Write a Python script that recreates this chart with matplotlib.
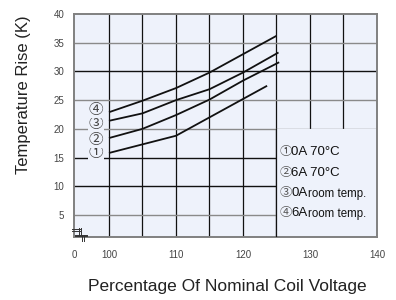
import matplotlib
matplotlib.use("Agg")
import matplotlib.pyplot as plt
from matplotlib.patches import Rectangle

plt.rcParams['font.family'] = ['Liberation Sans', 'Noto Sans CJK JP', 'DejaVu Sans']

# curves: (percent of nominal coil voltage, temperature rise K)
x_curve = [100, 105, 110, 115, 120, 125]
rise_6a_room = [22.9, 24.9, 27.1, 29.8, 33.0, 36.2]
x_0a_room = [100, 105, 110, 115, 120, 125.3]
rise_0a_room = [21.4, 22.7, 25.0, 26.9, 29.8, 33.3]
x_6a_70 = [100, 105, 110, 115, 120, 125.4]
rise_6a_70 = [18.4, 20.0, 22.4, 25.1, 28.4, 31.6]
x_0a_70 = [100, 105, 110, 115, 120, 123.6]
rise_0a_70 = [15.8, 17.3, 18.8, 22.0, 25.2, 27.5]

x_ticks = [100, 110, 120, 130, 140]
y_ticks = [5, 10, 15, 20, 25, 30, 35, 40]
marks = ["①", "②", "③", "④"]
legend_text = ["0A 70°C", "6A 70°C", "0A", "6A"]

bg = "#eef2fb"
x0, x1 = 94.78, 140
y0, y1 = 1.17, 40

fig = plt.figure(figsize=(3.96, 3.0), dpi=100)
ax = fig.add_axes([74 / 396, 1 - 237 / 300, 303 / 396, 223 / 300])
ax.set_facecolor(bg)
ax.set_xlim(x0, x1)
ax.set_ylim(y0, y1)

# grid drawn by hand, some horizontals are lighter
for v in [100, 105, 110, 115, 120, 125, 130, 135]:
    ax.axvline(v, color="#111111", lw=0.9, zorder=1)
for h in y_ticks[:-1]:
    c = "#111111" if h in (10, 15, 30) else "#8a8a8a"
    ax.axhline(h, color=c, lw=1.0, zorder=1)

# legend area covers the grid in the lower right
ax.add_patch(Rectangle((125, y0), x1 - 125, 20 - y0, facecolor=bg, edgecolor="none", zorder=2))
ax.plot([125, 125], [y0, 20], color="#111111", lw=0.9, zorder=3)

for xs, ys in [(x_curve, rise_6a_room), (x_0a_room, rise_0a_room),
               (x_6a_70, rise_6a_70), (x_0a_70, rise_0a_70)]:
    ax.plot(xs, ys, color="#111111", lw=1.3, zorder=4, solid_capstyle="butt")

# circled labels at the left end of each curve
for m, yv in zip(marks, [15.8, 18.1, 20.8, 23.3]):
    ax.text(98.1, yv, m, fontsize=10.5, ha="center", va="center", color="#444444",
            zorder=5, bbox=dict(boxstyle="square,pad=0.05", facecolor=bg, edgecolor="none"))

for i, (m, t) in enumerate(zip(marks, legend_text)):
    yv = [15.9, 12.3, 8.8, 5.3][i]
    ax.text(125.5, yv, m, fontsize=9, ha="left", va="center", color="#555555", zorder=5)
    ax.text(127.2, yv, t, fontsize=9.5, ha="left", va="center", color="#111111", zorder=5)
    if i >= 2:
        ax.text(129.75, yv - 0.2, "room temp.", fontsize=8.3, ha="left", va="center",
                color="#111111", zorder=5)

for s in ax.spines.values():
    s.set_color("#808080")
    s.set_linewidth(1.4)

ax.set_xticks([x0] + x_ticks)
ax.set_xticklabels(["0"] + [str(v) for v in x_ticks], fontsize=7, color="#444444")
ax.set_yticks(y_ticks)
ax.set_yticklabels([str(v) for v in y_ticks], fontsize=7, color="#444444")
ax.tick_params(axis="x", length=0, pad=9)
ax.tick_params(axis="y", length=0, pad=7)

fig.text(24 / 396, 1 - 95 / 300, "Temperature Rise (K)", fontsize=12, color="#222222",
         rotation=90, ha="center", va="center")
fig.text(227 / 396, 1 - 286 / 300, "Percentage Of Nominal Coil Voltage", fontsize=12.5,
         color="#222222", ha="center", va="center")

# axis break symbol in the corner (pixel offsets from the lower-left corner)
def px(xp, yp):
    return [(p - 74) / 303 for p in xp], [(237 - p) / 223 for p in yp]

segs = [([72, 79.5], [228.5, 228.5]), ([72, 79.5], [230.5, 230.5]),
        ([78.5, 78.5], [227.5, 234.5]), ([80.8, 80.8], [227.5, 234.5]),
        ([75, 86.5], [234.5, 234.5]), ([75, 86.5], [236.3, 236.3]),
        ([82, 82], [234.5, 241]), ([84.2, 84.2], [234.5, 241])]
for xp, yp in segs:
    fx, fy = px(xp, yp)
    ax.plot(fx, fy, transform=ax.transAxes, color="#333333", lw=0.7, clip_on=False, zorder=6)

fig.savefig("out.png", dpi=100)
